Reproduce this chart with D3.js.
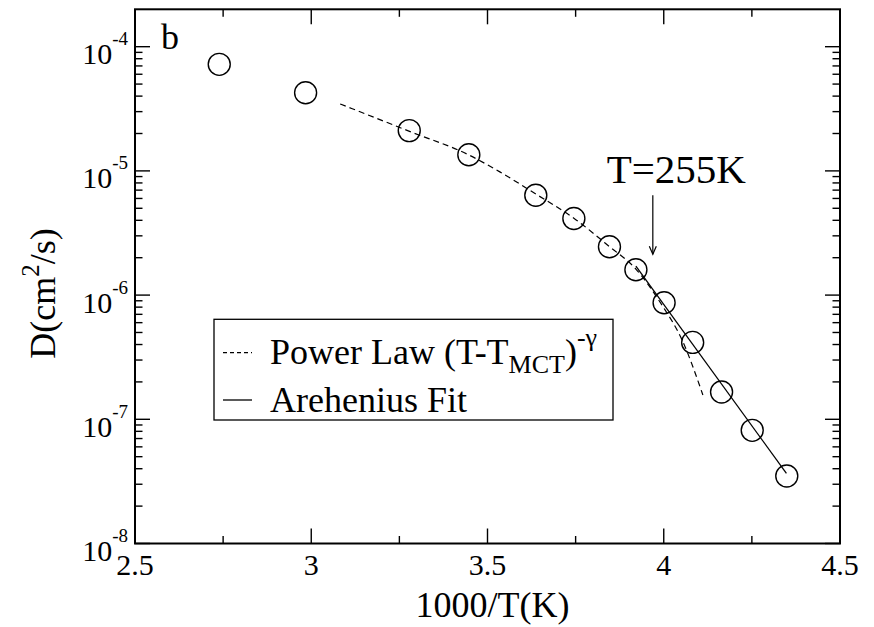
<!DOCTYPE html>
<html>
<head>
<meta charset="utf-8">
<script src="https://cdn.jsdelivr.net/npm/d3@7"></script>
</head>
<body style="margin:0;background:#fff">
<svg id="chart" width="874" height="627"></svg>
<script>
// Diffusion coefficient vs inverse temperature
const invT = [2.739, 2.984, 3.278, 3.447, 3.637, 3.745, 3.846, 3.921, 4.001, 4.082, 4.164, 4.251, 4.349];
const diffusion = [7.21e-5, 4.26e-5, 2.11e-5, 1.35e-5, 6.37e-6, 4.14e-6, 2.45e-6, 1.60e-6, 8.67e-7, 4.16e-7, 1.66e-7, 8.15e-8, 3.50e-8];

// Power-law (MCT) fit curve
const powerX = [3.082, 3.277, 3.448, 3.535, 3.638, 3.745, 3.845, 3.921, 3.995, 4.052, 4.111];
const powerD = [3.46e-5, 2.09e-5, 1.34e-5, 9.82e-6, 6.49e-6, 4.16e-6, 2.47e-6, 1.62e-6, 8.30e-7, 4.35e-7, 1.57e-7];

// Arrhenius fit (straight line on log scale)
const arrX = [3.921, 4.348];
const arrD = [1.71e-6, 3.67e-8];

// Axis ticks
const xMajor = [2.5, 3, 3.5, 4, 4.5];
const xMinor = [2.75, 3.25, 3.75, 4.25];
const yExponents = [-8, -7, -6, -5, -4];

// Annotation: T=255K arrow
const annoLabel = "T=255K";
const annoTextAt = [3.838, 7.92e-6];
const annoArrow = [[3.969, 6.37e-6], [3.969, 2.13e-6]];

const FONT = '"Liberation Serif"';
const svg = d3.select("#chart").style("font-family", FONT);
const plotL = 135, plotR = 840, plotT = 9.3, plotB = 543.5;

const x = d3.scaleLinear().domain([2.5, 4.5]).range([plotL, plotR]);
const y = d3.scaleLog().domain([1e-8, 2e-4]).range([plotB, plotT]);

const majorLen = 15, minorLen = 7.5;

// y minor ticks: 2..9 within each decade
const yMinor = [];
for (let e = -8; e <= -4; e++) {
  for (let m = 2; m <= 9; m++) {
    const v = m * Math.pow(10, e);
    if (v < 2e-4) yMinor.push(v);
  }
}

const ticks = svg.append("g").attr("stroke", "#000").attr("stroke-width", 1.4);

// bottom & top ticks
xMajor.forEach(v => {
  ticks.append("line").attr("x1", x(v)).attr("x2", x(v)).attr("y1", plotB).attr("y2", plotB - majorLen);
  ticks.append("line").attr("x1", x(v)).attr("x2", x(v)).attr("y1", plotT).attr("y2", plotT + majorLen);
});
xMinor.forEach(v => {
  ticks.append("line").attr("x1", x(v)).attr("x2", x(v)).attr("y1", plotB).attr("y2", plotB - minorLen);
  ticks.append("line").attr("x1", x(v)).attr("x2", x(v)).attr("y1", plotT).attr("y2", plotT + minorLen);
});
// left & right ticks
yExponents.forEach(e => {
  const v = Math.pow(10, e);
  ticks.append("line").attr("y1", y(v)).attr("y2", y(v)).attr("x1", plotL).attr("x2", plotL + majorLen);
  ticks.append("line").attr("y1", y(v)).attr("y2", y(v)).attr("x1", plotR).attr("x2", plotR - majorLen);
});
yMinor.forEach(v => {
  ticks.append("line").attr("y1", y(v)).attr("y2", y(v)).attr("x1", plotL).attr("x2", plotL + minorLen);
  ticks.append("line").attr("y1", y(v)).attr("y2", y(v)).attr("x1", plotR).attr("x2", plotR - minorLen);
});

// frame
svg.append("rect")
  .attr("x", plotL).attr("y", plotT)
  .attr("width", plotR - plotL).attr("height", plotB - plotT)
  .attr("fill", "none").attr("stroke", "#000").attr("stroke-width", 2);

// x tick labels
svg.append("g").selectAll("text").data(xMajor).join("text")
  .style("font-family", FONT)
  .attr("x", d => x(d)).attr("y", plotB + 31)
  .attr("text-anchor", "middle").attr("font-size", 30)
  .text(d => d3.format("")(d));

// y tick labels 10^e
const yl = svg.append("g").selectAll("text").data(yExponents).join("text")
  .style("font-family", FONT)
  .attr("x", 128).attr("y", d => y(Math.pow(10, d)) + 17.5)
  .attr("text-anchor", "end").attr("font-size", 30);
yl.append("tspan").text("10");
yl.append("tspan").attr("font-size", 19).attr("dy", -19).text(d => String(d));

// axis titles
svg.append("text").style("font-family", FONT)
  .attr("x", (plotL + plotR) / 2 + 5).attr("y", 617)
  .attr("text-anchor", "middle").attr("font-size", 36)
  .text("1000/T(K)");

const yt = svg.append("text").style("font-family", FONT)
  .attr("transform", `translate(55, ${(plotT + plotB) / 2 + 17}) rotate(-90)`)
  .attr("text-anchor", "middle").attr("font-size", 36);
yt.append("tspan").text("D(cm");
yt.append("tspan").attr("font-size", 25).attr("dy", -16).text("2");
yt.append("tspan").attr("dy", 16).text("/s)");

// panel label
svg.append("text").style("font-family", FONT)
  .attr("x", 161).attr("y", 49).attr("font-size", 36).text("b");

// fits
const line = d3.line().x(d => x(d[0])).y(d => y(d[1]));
svg.append("path")
  .datum(powerX.map((v, i) => [v, powerD[i]]))
  .attr("d", line.curve(d3.curveMonotoneX))
  .attr("fill", "none").attr("stroke", "#000").attr("stroke-width", 1.2)
  .attr("stroke-dasharray", "6,4");

svg.append("path")
  .datum(arrX.map((v, i) => [v, arrD[i]]))
  .attr("d", d3.line().x(d => x(d[0])).y(d => y(d[1])))
  .attr("fill", "none").attr("stroke", "#000").attr("stroke-width", 1.3);

// data points
svg.append("g").selectAll("circle").data(invT.map((v, i) => [v, diffusion[i]])).join("circle")
  .attr("cx", d => x(d[0])).attr("cy", d => y(d[1])).attr("r", 11)
  .attr("fill", "none").attr("stroke", "#000").attr("stroke-width", 1.4);

// annotation
svg.append("text").style("font-family", FONT)
  .attr("x", x(annoTextAt[0])).attr("y", y(annoTextAt[1]))
  .attr("font-size", 41).text(annoLabel);
const ax = x(annoArrow[0][0]), ay0 = y(annoArrow[0][1]), ay1 = y(annoArrow[1][1]);
const arrow = svg.append("g").attr("stroke", "#000").attr("stroke-width", 1.2).attr("fill", "none");
arrow.append("line").attr("x1", ax).attr("x2", ax).attr("y1", ay0).attr("y2", ay1);
arrow.append("path").attr("d", `M${ax - 3.5},${ay1 - 8} L${ax},${ay1} L${ax + 3.5},${ay1 - 8}`);

// legend
const lg = svg.append("g");
lg.append("rect").attr("x", 214).attr("y", 319.3).attr("width", 399).attr("height", 100.7)
  .attr("fill", "#fff").attr("stroke", "#000").attr("stroke-width", 1.3);
lg.append("line").attr("x1", 223).attr("x2", 252).attr("y1", 352.7).attr("y2", 352.7)
  .attr("stroke", "#000").attr("stroke-width", 1.2).attr("stroke-dasharray", "4,3");
lg.append("line").attr("x1", 223).attr("x2", 252).attr("y1", 400).attr("y2", 400)
  .attr("stroke", "#000").attr("stroke-width", 1.3);
const t1 = lg.append("text").style("font-family", FONT)
  .attr("x", 270).attr("y", 364).attr("font-size", 36);
t1.append("tspan").text("Power Law (T-T");
t1.append("tspan").attr("font-size", 26).attr("dy", 9).text("MCT");
t1.append("tspan").attr("dy", -9).text(")");
t1.append("tspan").attr("font-size", 26).attr("dy", -18).text("-γ");
lg.append("text").style("font-family", FONT)
  .attr("x", 270).attr("y", 412).attr("font-size", 36).text("Arehenius Fit");
</script>
</body>
</html>
